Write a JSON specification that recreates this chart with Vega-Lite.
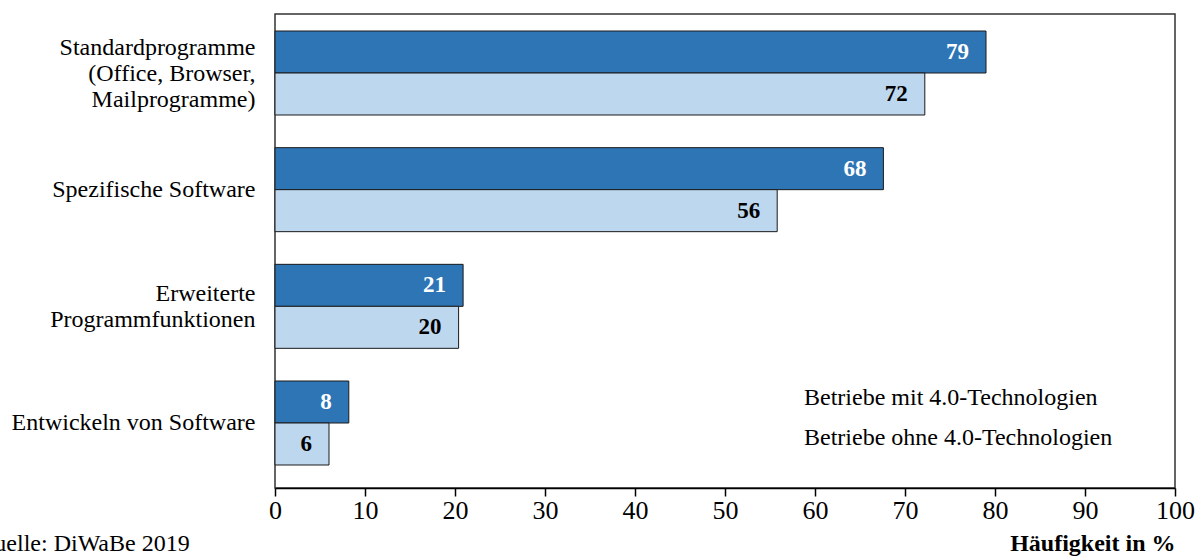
{
  "$schema": "https://vega.github.io/schema/vega-lite/v6.json",
  "width": 900,
  "height": 474,
  "autosize": {"type": "none"},
  "padding": {"left": 275, "top": 14, "right": 21, "bottom": 68},
  "background": "white",
  "config": {
    "font": "'Liberation Serif', 'Times New Roman', serif",
    "view": {"stroke": "#333333", "strokeWidth": 1.5}
  },
  "title": {
    "text": "Quelle: DiWaBe 2019",
    "orient": "bottom",
    "anchor": "start",
    "frame": "group",
    "dx": -298,
    "offset": -23,
    "fontSize": 24,
    "fontWeight": "normal",
    "color": "black",
    "font": "'Liberation Serif', 'Times New Roman', serif"
  },
  "data": {
    "values": [
      {"cat": "Standardprogramme|(Office, Browser,|Mailprogramme)", "group": "Betriebe mit 4.0-Technologien", "value": 79.0},
      {"cat": "Standardprogramme|(Office, Browser,|Mailprogramme)", "group": "Betriebe ohne 4.0-Technologien", "value": 72.2},
      {"cat": "Spezifische Software", "group": "Betriebe mit 4.0-Technologien", "value": 67.6},
      {"cat": "Spezifische Software", "group": "Betriebe ohne 4.0-Technologien", "value": 55.8},
      {"cat": "Erweiterte|Programmfunktionen", "group": "Betriebe mit 4.0-Technologien", "value": 20.9},
      {"cat": "Erweiterte|Programmfunktionen", "group": "Betriebe ohne 4.0-Technologien", "value": 20.4},
      {"cat": "Entwickeln von Software", "group": "Betriebe mit 4.0-Technologien", "value": 8.2},
      {"cat": "Entwickeln von Software", "group": "Betriebe ohne 4.0-Technologien", "value": 6.0}
    ]
  },
  "encoding": {
    "y": {
      "field": "cat",
      "type": "nominal",
      "sort": null,
      "scale": {"paddingInner": 0.28, "paddingOuter": 0, "range": [17, 451]},
      "axis": {
        "title": null,
        "domain": false,
        "ticks": false,
        "labelExpr": "split(datum.label, '|')",
        "labelFont": "'Liberation Serif', 'Times New Roman', serif",
        "labelFontSize": 24,
        "labelColor": "black",
        "labelLineHeight": 26,
        "labelPadding": 20,
        "labelLimit": 300,
        "labelOffset": {
          "condition": [
            {"test": "indexof(datum.value, 'Office') >= 0", "value": -25},
            {"test": "indexof(datum.value, 'Erweiterte') >= 0", "value": -12}
          ],
          "value": 0
        }
      }
    },
    "yOffset": {
      "field": "group",
      "type": "nominal",
      "scale": {"domain": ["Betriebe mit 4.0-Technologien", "Betriebe ohne 4.0-Technologien"], "paddingInner": 0, "paddingOuter": 0}
    },
    "x": {
      "field": "value",
      "type": "quantitative",
      "scale": {"domain": [0, 100], "nice": false},
      "axis": {
        "values": [0, 10, 20, 30, 40, 50, 60, 70, 80, 90, 100],
        "grid": false,
        "domainColor": "black",
        "domainWidth": 1.5,
        "tickColor": "black",
        "tickWidth": 1.5,
        "tickSize": 8,
        "labelFont": "'Liberation Serif', 'Times New Roman', serif",
        "labelFontSize": 26,
        "labelColor": "black",
        "labelPadding": 1,
        "labelFlush": false,
        "title": "Häufigkeit in %",
        "titleFont": "'Liberation Serif', 'Times New Roman', serif",
        "titleFontSize": 24,
        "titleFontWeight": "bold",
        "titleColor": "black",
        "titleAnchor": "end",
        "titleAlign": "right",
        "titleX": 900,
        "titleY": 62,
        "titleBaseline": "alphabetic"
      }
    }
  },
  "layer": [
    {
      "mark": {"type": "bar", "stroke": "#1a1a1a", "strokeWidth": 1},
      "encoding": {
        "fill": {
          "field": "group",
          "type": "nominal",
          "scale": {"domain": ["Betriebe mit 4.0-Technologien", "Betriebe ohne 4.0-Technologien"], "range": ["#2E75B6", "#BDD7EE"]},
          "legend": {
            "title": null,
            "orient": "none",
            "legendX": 497,
            "legendY": 372,
            "symbolOpacity": 0,
            "symbolStrokeWidth": 0,
            "symbolSize": 0,
            "labelFont": "'Liberation Serif', 'Times New Roman', serif",
            "labelFontSize": 24,
            "labelColor": "black",
            "labelLimit": 500,
            "rowPadding": 16,
            "labelOffset": 8
          }
        }
      }
    },
    {
      "mark": {"type": "text", "align": "right", "baseline": "middle", "dx": -17, "fontWeight": "bold", "fontSize": 23, "font": "'Liberation Serif', 'Times New Roman', serif"},
      "encoding": {
        "text": {"field": "value", "type": "quantitative", "format": ".0f"},
        "color": {
          "condition": {"test": "datum.group === 'Betriebe mit 4.0-Technologien'", "value": "white"},
          "value": "black"
        }
      }
    }
  ]
}
